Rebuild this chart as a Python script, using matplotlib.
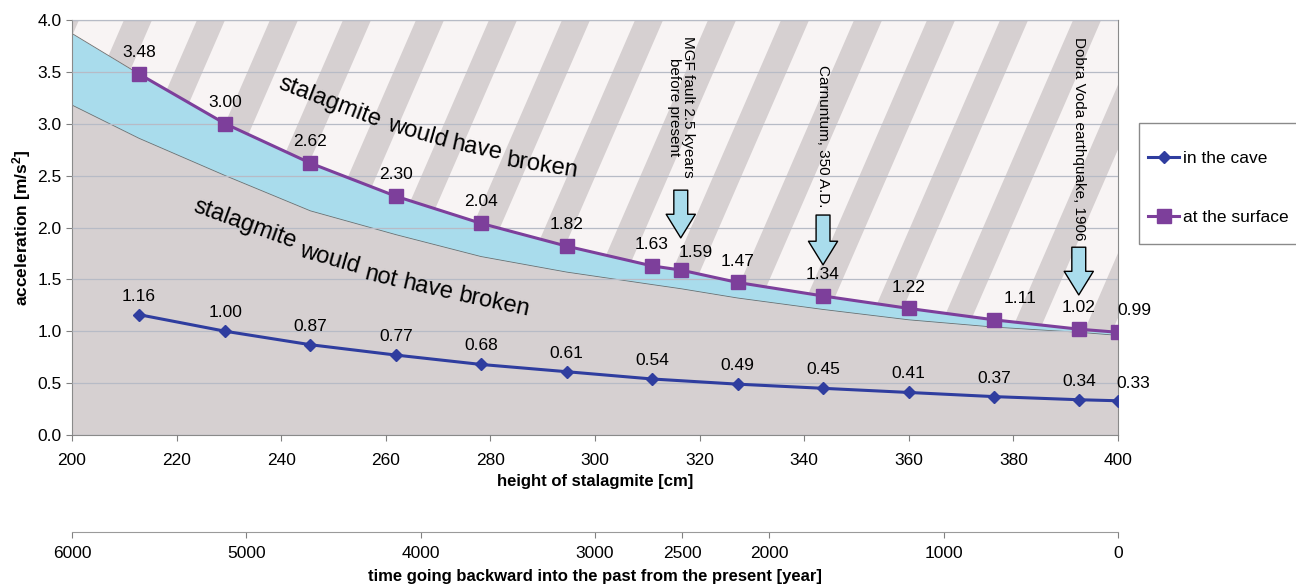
import matplotlib
matplotlib.use("Agg")
import matplotlib.pyplot as plt
from matplotlib.patches import Polygon, Rectangle

plt.rcParams['font.family'] = ['Liberation Sans', 'DejaVu Sans']
plt.rcParams['mathtext.fontset'] = 'custom'
plt.rcParams['mathtext.bf'] = 'Liberation Sans:bold'
plt.rcParams['mathtext.rm'] = 'Liberation Sans'

# data
height = [212.8, 229.3, 245.6, 262.0, 278.2, 294.6, 310.9, 316.4, 327.3, 343.6, 360.0, 376.3, 392.5, 400.0]
surface = [3.48, 3.00, 2.62, 2.30, 2.04, 1.82, 1.63, 1.59, 1.47, 1.34, 1.22, 1.11, 1.02, 0.99]
cave_height = [212.8, 229.3, 245.6, 262.0, 278.2, 294.6, 310.9, 327.3, 343.6, 360.0, 376.3, 392.5, 400.0]
cave = [1.16, 1.00, 0.87, 0.77, 0.68, 0.61, 0.54, 0.49, 0.45, 0.41, 0.37, 0.34, 0.33]

# broken / not broken band
band_x = [200.0] + height
band_top = [3.87] + surface
band_low = [3.18, 2.86, 2.50, 2.16, 1.93, 1.72, 1.57, 1.45, 1.41, 1.32, 1.21, 1.11, 1.04, 0.99, 0.96]

years = [6000, 5000, 4000, 3000, 2500, 2000, 1000, 0]

events = ["MGF fault 2.5 kyears\nbefore present", "Carnuntum, 350 A.D.", "Dobra Voda earthquake, 1906"]
event_x = [316.4, 343.6, 392.5]
event_text_y = [3.16, 2.88, 2.86]
event_arrow = [(2.36, 1.90), (2.12, 1.64), (1.81, 1.35)]

# curved region labels, one word at a time
broken_words = ["stalagmite", "would", "have", "broken"]
broken_pos = [(249.3, 3.21, -21), (266.0, 2.91, -16), (277.4, 2.76, -12), (289.9, 2.60, -9)]
intact_words = ["stalagmite", "would", "not", "have", "broken"]
intact_pos = [(233.1, 2.03, -20), (249.3, 1.70, -16), (259.0, 1.52, -14), (268.1, 1.42, -13), (280.7, 1.28, -12)]

c_cave = '#2f3d9f'
c_surf = '#7d3f9b'
c_blue = '#a9dcec'
c_gray = '#d6d0d1'
c_light = '#f8f4f4'

fig = plt.figure(figsize=(12.96, 5.84), dpi=100)
ax = fig.add_axes([72/1296, 1-435/584, 1046/1296, 415/584])

ax.fill_between(band_x, 0, band_low, color=c_gray, lw=0, zorder=0.5)
ax.fill_between(band_x, band_low, band_top, color=c_blue, lw=0, zorder=0.5)
ax.plot(band_x, band_low, color='#6e6e6e', lw=0.6, zorder=0.8)
ax.plot(band_x[:2], band_top[:2], color='#6e6e6e', lw=0.6, zorder=0.8)

# hatched "would have broken" region
hatch = Polygon(list(zip(band_x, band_top)) + [(400, 4.0), (200, 4.0)], closed=True,
                facecolor=c_light, edgecolor='none', zorder=0.5)
ax.add_patch(hatch)
start, period, width, shift = 0.0497, 0.0698, 0.0268, 0.1721
for k in range(-4, 18):
    l = start + k*period
    st = Polygon([(l, 1), (l+width, 1), (l+width-shift, 0), (l-shift, 0)], closed=True,
                 transform=ax.transAxes, facecolor=c_gray, edgecolor='none', zorder=0.6)
    ax.add_patch(st)
    st.set_clip_path(hatch)

ax.set_axisbelow(False)
ax.grid(axis='y', color='#b7bbc6', lw=0.9)

ax.plot(cave_height, cave, color=c_cave, lw=2.2, marker='D', ms=6.5, label='in the cave', zorder=4)
ax.plot(height, surface, color=c_surf, lw=2.2, marker='s', ms=10, label='at the surface', zorder=4)

special = {7: (11, 7), 11: (19, 10), 13: (12, 10)}
for i, (x, v) in enumerate(zip(height, surface)):
    off = special.get(i, (0, 10))
    ax.annotate(f"{v:.2f}", (x, v), xytext=off, textcoords='offset points',
                ha='center', va='bottom', fontsize=12.5, zorder=5)
for i, (x, v) in enumerate(zip(cave_height, cave)):
    off = (11, 7) if i == len(cave) - 1 else (0, 8)
    ax.annotate(f"{v:.2f}", (x, v), xytext=off, textcoords='offset points',
                ha='center', va='bottom', fontsize=12.5, zorder=5)

for w, (x, y, r) in zip(broken_words + intact_words, broken_pos + intact_pos):
    ax.text(x, y, w, fontsize=17, rotation=r, ha='center', va='center',
            rotation_mode='default', zorder=5)

for name, x, ty, (a0, a1) in zip(events, event_x, event_text_y, event_arrow):
    ax.text(x, ty, name, rotation=-90, fontsize=11, ha='center', va='center',
            multialignment='center', linespacing=1.0, zorder=5)
    ax.annotate('', xy=(x, a1), xytext=(x, a0),
                arrowprops=dict(arrowstyle='simple,head_length=1.7,head_width=2.1,tail_width=1.0',
                                mutation_scale=10, fc=c_blue, ec='black', lw=1.0,
                                shrinkA=0, shrinkB=0), zorder=5)

ax.set_xlim(200, 400)
ax.set_ylim(0, 4)
ax.set_xticks(range(200, 401, 20))
ax.set_yticks([i*0.5 for i in range(9)])
ax.set_yticklabels([f"{i*0.5:.1f}" for i in range(9)])
ax.tick_params(labelsize=12.5, color='#808080', length=4)
ax.tick_params(axis='x', pad=9)
for s in ax.spines.values():
    s.set_color('#8a8a8a')
ax.set_xlabel("height of stalagmite [cm]", fontsize=12, fontweight='bold', labelpad=4)
ax.set_ylabel(r"acceleration [m/s$\mathbf{^2}$]", fontsize=12.5, fontweight='bold', labelpad=3)

sec = ax.secondary_xaxis(-0.234, functions=(lambda h: (400 - h)*30, lambda t: 400 - t/30))
sec.set_xticks(years)
sec.set_xticklabels([str(y) for y in years])
sec.tick_params(labelsize=12.5, color='#808080', length=4, pad=6)
sec.spines['bottom'].set_color('#9a9a9a')
sec.set_xlabel("time going backward into the past from the present [year]", fontsize=12,
               fontweight='bold', labelpad=6)

# legend box runs off the right edge, as in the original
fig.add_artist(Rectangle((1139/1296, 1-244/584), 170/1296, 121/584, transform=fig.transFigure,
                         facecolor='white', edgecolor='#8a8a8a', lw=1.0))
fig.legend(loc='upper left', bbox_to_anchor=(1148/1296, 1-151/584), fontsize=12.5,
           frameon=False, labelspacing=2.5, borderpad=0, handlelength=1.8,
           handletextpad=0.2, borderaxespad=0)

fig.savefig("out.png", dpi=100)
